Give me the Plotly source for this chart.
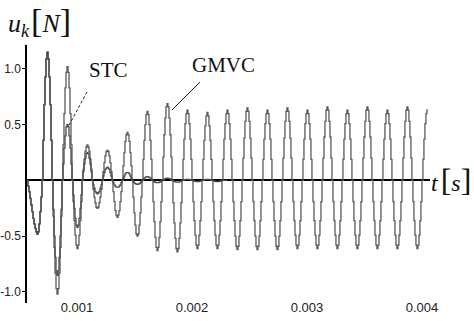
import plotly.graph_objects as go

# time grid of the sampled signals (seconds)
T0 = 0.000565
DT = 8.696e-6
X_RANGE = [0.000565, 0.00407]
Y_RANGE = [-1.099, 1.215]

x_tick_vals = [0.001, 0.002, 0.003, 0.004]
x_tick_text = ["0.001", "0.002", "0.003", "0.004"]
y_tick_vals = [-1.0, -0.5, 0.5, 1.0]
y_tick_text = ["-1.0", "-0.5", "0.5", "1.0"]

# GMVC control signal u_k (sampled, zero-order hold)
gmvc = [
    0, -0.05, -0.10, -0.16, -0.22, -0.28, -0.34, -0.39, -0.43, -0.46,
    -0.48, -0.46, -0.39, -0.28, -0.15, 0, 0.36, 0.68, 0.93, 1.09,
    1.15, 1.09, 0.93, 0.68, 0.36, 0, -0.32, -0.60, -0.83, -0.97,
    -1.02, -0.97, -0.83, -0.60, -0.32, 0, 0.32, 0.60, 0.83, 0.97,
    1.02, 0.97, 0.83, 0.60, 0.32, 0, -0.19, -0.36, -0.49, -0.58,
    -0.61, -0.58, -0.49, -0.36, -0.19, 0, 0.10, 0.19, 0.26, 0.30,
    0.32, 0.30, 0.26, 0.19, 0.10, 0, -0.08, -0.15, -0.20, -0.24,
    -0.25, -0.24, -0.20, -0.15, -0.08, 0, 0.08, 0.16, 0.22, 0.26,
    0.27, 0.26, 0.22, 0.16, 0.08, 0, -0.10, -0.19, -0.27, -0.31,
    -0.33, -0.31, -0.27, -0.19, -0.10, 0, 0.13, 0.25, 0.35, 0.41,
    0.43, 0.41, 0.35, 0.25, 0.13, 0, -0.15, -0.29, -0.40, -0.48,
    -0.50, -0.48, -0.40, -0.29, -0.15, 0, 0.19, 0.36, 0.50, 0.59,
    0.62, 0.59, 0.50, 0.36, 0.19, 0, -0.19, -0.37, -0.51, -0.60,
    -0.63, -0.60, -0.51, -0.37, -0.19, 0, 0.21, 0.41, 0.56, 0.66,
    0.69, 0.66, 0.56, 0.41, 0.21, 0, -0.20, -0.38, -0.52, -0.61,
    -0.64, -0.61, -0.52, -0.38, -0.20, 0, 0.19, 0.37, 0.51, 0.60,
    0.63, 0.60, 0.51, 0.37, 0.19, 0, -0.19, -0.36, -0.49, -0.58,
    -0.61, -0.58, -0.49, -0.36, -0.19, 0, 0.19, 0.36, 0.49, 0.58,
    0.61, 0.58, 0.49, 0.36, 0.19, 0, -0.19, -0.36, -0.49, -0.58,
    -0.61, -0.58, -0.49, -0.36, -0.19, 0, 0.19, 0.37, 0.51, 0.60,
    0.63, 0.60, 0.51, 0.37, 0.19, 0, -0.19, -0.36, -0.50, -0.59,
    -0.62, -0.59, -0.50, -0.36, -0.19, 0, 0.20, 0.38, 0.53, 0.62,
    0.65, 0.62, 0.53, 0.38, 0.20, 0, -0.19, -0.36, -0.50, -0.59,
    -0.62, -0.59, -0.50, -0.36, -0.19, 0, 0.19, 0.37, 0.51, 0.60,
    0.63, 0.60, 0.51, 0.37, 0.19, 0, -0.19, -0.36, -0.50, -0.59,
    -0.62, -0.59, -0.50, -0.36, -0.19, 0, 0.20, 0.38, 0.53, 0.62,
    0.65, 0.62, 0.53, 0.38, 0.20, 0, -0.19, -0.36, -0.49, -0.58,
    -0.61, -0.58, -0.49, -0.36, -0.19, 0, 0.19, 0.37, 0.51, 0.60,
    0.63, 0.60, 0.51, 0.37, 0.19, 0, -0.19, -0.36, -0.49, -0.58,
    -0.61, -0.58, -0.49, -0.36, -0.19, 0, 0.20, 0.39, 0.53, 0.63,
    0.66, 0.63, 0.53, 0.39, 0.20, 0, -0.19, -0.36, -0.49, -0.58,
    -0.61, -0.58, -0.49, -0.36, -0.19, 0, 0.19, 0.37, 0.51, 0.60,
    0.63, 0.60, 0.51, 0.37, 0.19, 0, -0.19, -0.36, -0.49, -0.58,
    -0.61, -0.58, -0.49, -0.36, -0.19, 0, 0.20, 0.39, 0.53, 0.63,
    0.66, 0.63, 0.53, 0.39, 0.20, 0, -0.19, -0.36, -0.49, -0.58,
    -0.61, -0.58, -0.49, -0.36, -0.19, 0, 0.19, 0.37, 0.51, 0.60,
    0.63, 0.60, 0.51, 0.37, 0.19, 0, -0.19, -0.36, -0.49, -0.58,
    -0.61, -0.58, -0.49, -0.36, -0.19, 0, 0.20, 0.39, 0.53, 0.63,
    0.66, 0.63, 0.53, 0.39, 0.20, 0, -0.19, -0.36, -0.49, -0.58,
    -0.61, -0.58, -0.49, -0.36, -0.19, 0, 0.19, 0.37, 0.51, 0.60,
    0.63, 0.63,
]

# STC control signal u_k (sampled, zero-order hold)
stc = [
    0, -0.05, -0.10, -0.16, -0.22, -0.28, -0.34, -0.39, -0.43, -0.46,
    -0.48, -0.46, -0.39, -0.28, -0.15, 0, 0.36, 0.68, 0.93, 1.09,
    1.15, 1.09, 0.93, 0.68, 0.36, 0, -0.26, -0.50, -0.69, -0.81,
    -0.85, -0.81, -0.69, -0.50, -0.26, 0, 0.15, 0.29, 0.40, 0.48,
    0.50, 0.48, 0.40, 0.29, 0.15, 0, -0.13, -0.25, -0.34, -0.40,
    -0.42, -0.40, -0.34, -0.25, -0.13, 0, 0.08, 0.15, 0.20, 0.24,
    0.25, 0.24, 0.20, 0.15, 0.08, 0, -0.04, -0.07, -0.10, -0.11,
    -0.12, -0.11, -0.10, -0.07, -0.04, 0, 0.04, 0.07, 0.10, 0.11,
    0.12, 0.11, 0.10, 0.07, 0.04, 0, -0.02, -0.04, -0.05, -0.06,
    -0.06, -0.06, -0.05, -0.04, -0.02, 0, 0.02, 0.04, 0.06, 0.07,
    0.07, 0.07, 0.06, 0.04, 0.02, 0, -0.011, -0.021, -0.028, -0.033,
    -0.035, -0.033, -0.028, -0.021, -0.011, 0, 0.011, 0.021, 0.028, 0.033,
    0.035, 0.033, 0.028, 0.021, 0.011, 0, -0.006, -0.012, -0.016, -0.019,
    -0.02, -0.019, -0.016, -0.012, -0.006, 0, 0.006, 0.012, 0.016, 0.019,
    0.02, 0.019, 0.016, 0.012, 0.006, 0, -0.005, -0.009, -0.012, -0.014,
    -0.015, -0.014, -0.012, -0.009, -0.005, 0, 0.003, 0.006, 0.008, 0.01,
    0.01, 0.01, 0.008, 0.006, 0.003, 0, -0.003, -0.006, -0.008, -0.01,
    -0.01, -0.01, -0.008, -0.006, -0.003, 0, 0.003, 0.006, 0.008, 0.01,
    0.01, 0.01, 0.008, 0.006, 0.003, 0, -0.003, -0.006, -0.008, -0.01,
    -0.01, -0.01, -0.008, -0.006, -0.003, 0, 0, 0, 0, 0,
    0,
]

LINE_COLOR = "#5a5a5a"
TICK_FONT = "Liberation Sans, Arial, sans-serif"
SERIF = "Liberation Serif, Times New Roman, serif"

fig = go.Figure()
fig.add_trace(go.Scatter(y=gmvc, x0=T0, dx=DT, mode="lines", line_shape="hv",
                         line=dict(color=LINE_COLOR, width=1.3), name="GMVC"))
fig.add_trace(go.Scatter(y=stc, x0=T0, dx=DT, mode="lines", line_shape="hv",
                         line=dict(color="#4a4a4a", width=1.3), name="STC"))

fig.update_layout(
    width=474, height=321,
    margin=dict(l=27, r=44, t=45, b=18),
    paper_bgcolor="white", plot_bgcolor="white",
    showlegend=False,
    xaxis=dict(range=X_RANGE, showgrid=False, zeroline=False, showline=False,
               automargin=False,
               tickvals=x_tick_vals, ticktext=x_tick_text, ticks="",
               tickfont=dict(family=TICK_FONT, size=13, color="#222"),
               ticklabelstandoff=-5),
    yaxis=dict(range=Y_RANGE, showgrid=False, zeroline=True, zerolinecolor="black",
               automargin=False,
               zerolinewidth=1.5, showline=True, linecolor="black", linewidth=1.5,
               tickvals=y_tick_vals, ticktext=y_tick_text, ticks="outside",
               ticklen=3, tickcolor="black", ticklabelstandoff=-1,
               tickfont=dict(family=TICK_FONT, size=12, color="#222")),
)

fig.add_annotation(xref="paper", yref="paper", x=0, y=1, xshift=-21, yshift=24,
                   xanchor="left", yanchor="middle", showarrow=False,
                   text='<i>u</i><sub><i>k</i></sub><span style="font-size:8px"> </span><span style="font-size:34px">[</span><i>N</i><span style="font-size:34px">]</span>',
                   font=dict(family=SERIF, size=26, color="#111"))
fig.add_annotation(xref="paper", yref="y", x=1, y=0, xshift=-1,
                   xanchor="left", yanchor="middle", showarrow=False,
                   text='<i>t</i><span style="font-size:12px"> </span><span style="font-size:32px">[</span><i>s</i><span style="font-size:32px">]</span>',
                   font=dict(family=SERIF, size=24, color="#111"))

fig.add_annotation(x=0.001274, y=0.987, text="STC", showarrow=False,
                   font=dict(family=SERIF, size=21, color="#111"))
fig.add_annotation(x=0.00227, y=1.04, text="GMVC", showarrow=False,
                   font=dict(family=SERIF, size=21, color="#111"))

fig.add_shape(type="line", xref="x", yref="y", x0=0.001087, y0=0.794, x1=0.000922, y1=0.48,
              line=dict(color="#222", width=1, dash="3px,2px"))
fig.add_shape(type="line", xref="x", yref="y", x0=0.00207, y0=0.883, x1=0.001826, y1=0.632,
              line=dict(color="#222", width=1))

fig.write_html("out.html", config={"displayModeBar": False},
               post_script="document.body.style.margin='0';")
